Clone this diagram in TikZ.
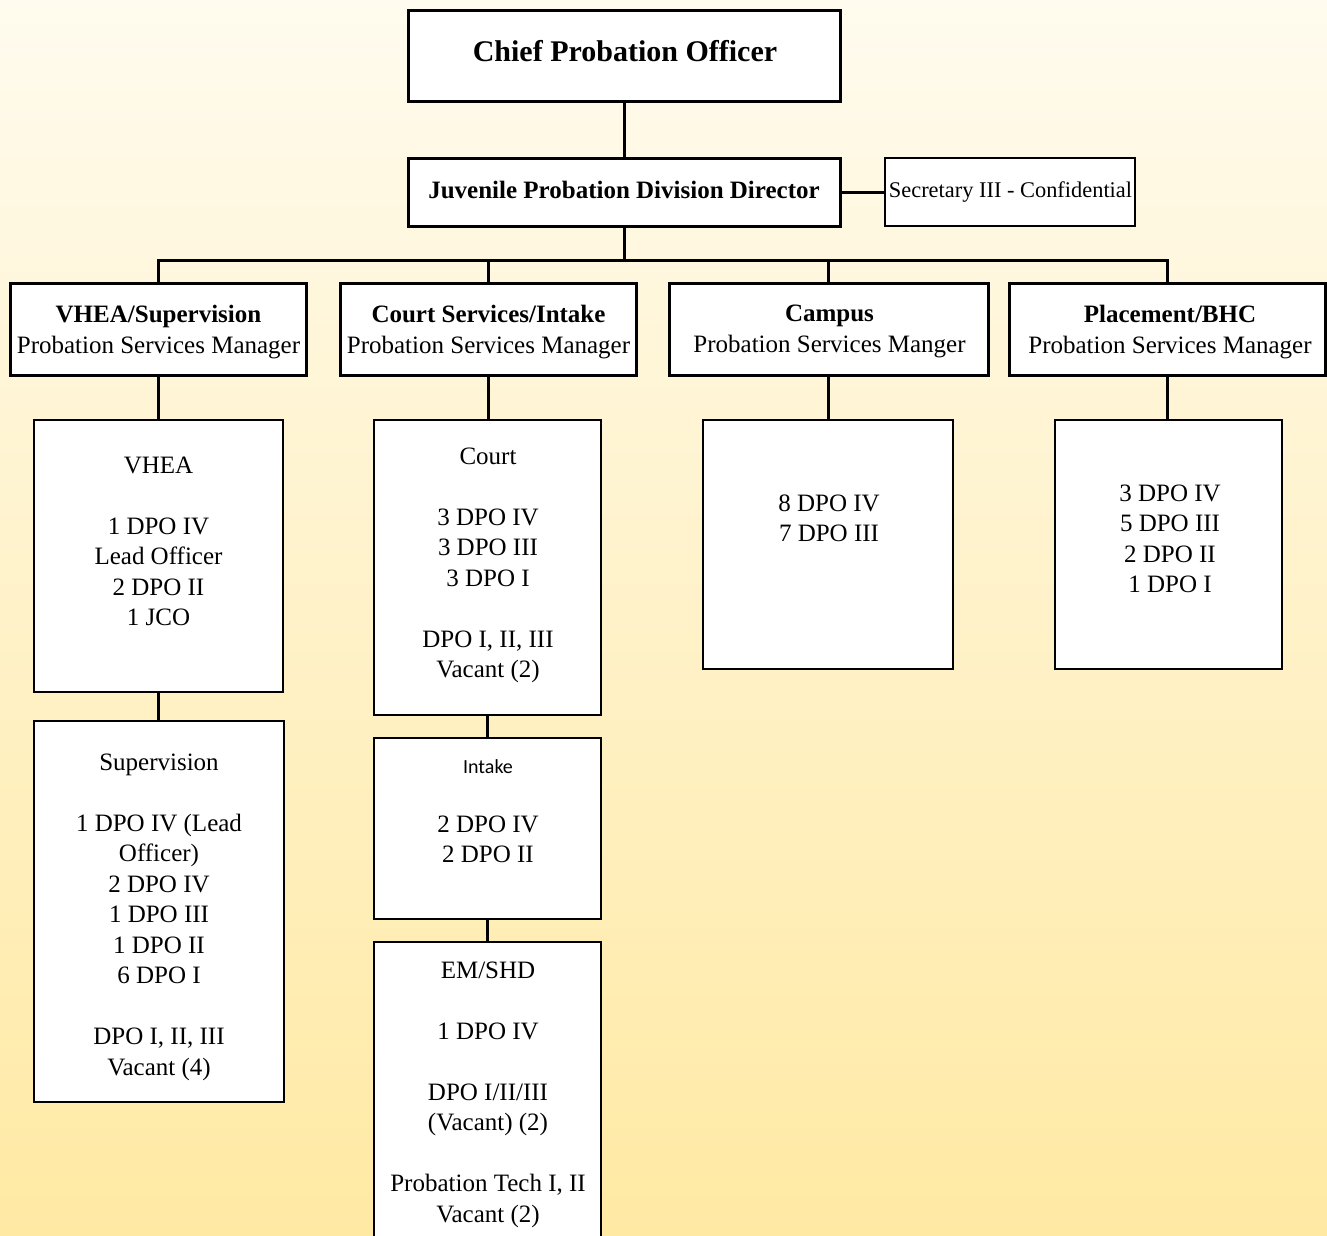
\documentclass[tikz,border=0pt]{standalone}
\usepackage{fontspec}
\setmainfont{Liberation Serif}
\newfontfamily\carlitofont{Carlito}
\usetikzlibrary{fit}
\definecolor{bgtop}{RGB}{255,251,238}
\definecolor{bgbot}{RGB}{255,233,163}
\newcommand\blankline{\\[22.875pt]}
\begin{document}
\begin{tikzpicture}[x=0.75pt,y=-0.75pt,
  thickbox/.style={draw, line width=2.25pt, fill=white, inner sep=0pt, outer sep=0pt},
  thinbox/.style={draw, line width=1.1pt, fill=white, inner sep=0pt, outer sep=0pt},
  conn/.style={line width=2.25pt},
  body/.style={anchor=north, align=center, inner sep=0pt, font=\fontsize{18.75}{22.875}\selectfont, execute at begin node=\strut},
]
\useasboundingbox (0,0) rectangle (1327,1235);
\clip (0,0) rectangle (1327,1235);
\shade[top color=bgtop, bottom color=bgbot] (0,0) rectangle (1327,1235);

% boxes
\node[thickbox, fit={(408,10)(840,101)}] (chief) {};
\node[thickbox, fit={(408,158)(840,226)}] (dir) {};
\node[thinbox, fit={(885,158)(1135,226)}] (sec) {};
\node[thickbox, fit={(10,283)(306,375)}] (m1) {};
\node[thickbox, fit={(340,283)(636,375)}] (m2) {};
\node[thickbox, fit={(669,283)(988,375)}] (m3) {};
\node[thickbox, fit={(1009,283)(1325,375)}] (m4) {};
\node[thinbox, fit={(34,420)(283,692)}] (vhea) {};
\node[thinbox, fit={(34,721)(284,1102)}] (sup) {};
\node[thinbox, fit={(374,420)(601,715)}] (court) {};
\node[thinbox, fit={(374,738)(601,919)}] (intake) {};
\node[thinbox, fit={(374,942)(601,1260)}] (em) {};
\node[thinbox, fit={(703,420)(953,669)}] (campus) {};
\node[thinbox, fit={(1055,420)(1282,669)}] (place) {};

% connectors
\draw[conn] (chief.south) -- (dir.north);
\draw[conn] (dir.east) -- (sec.west);
\draw[conn] (dir.south) -- ++(0,34);
\draw[conn] (m1.north) -- ++(0,-23) -| (m4.north);
\draw[conn] (m2.north) -- ++(0,-23);
\draw[conn] (m3.north) -- ++(0,-23);
\draw[conn] (m1.south) -- (m1.south |- vhea.north);
\draw[conn] (vhea.south) -- (vhea.south |- sup.north);
\draw[conn] (m2.south) -- (m2.south |- court.north);
\draw[conn] (court.south) -- (court.south |- intake.north);
\draw[conn] (intake.south) -- (intake.south |- em.north);
\draw[conn] (m3.south) -- (m3.south |- campus.north);
\draw[conn] (m4.south) -- (m4.south |- place.north);

% texts
\node[anchor=base, inner sep=0pt, font=\fontsize{22.5}{27}\selectfont\bfseries] (tchief) at (625,61) {Chief Probation Officer};
\node[anchor=base, inner sep=0pt, font=\fontsize{18.75}{22.875}\selectfont\bfseries] (tdir) at (624,198) {Juvenile Probation Division Director};
\node[anchor=base, inner sep=0pt, font=\fontsize{16.8}{20}\selectfont] (tsec) at (1010.5,197) {Secretary III - Confidential};

\node[body] (tm1) at (158.5,305) {\textbf{VHEA/Supervision}\\Probation Services Manager};
\node[body] (tm2) at (488.5,305) {\textbf{Court Services/Intake}\\Probation Services Manager};
\node[body] (tm3) at (829.5,305) {\textbf{Campus}\\Probation Services Manger};
\node[body] (tm4) at (1170,305) {\textbf{Placement/BHC}\\Probation Services Manager};

\node[body] (tvhea) at (158.5,456.5) {VHEA\blankline 1 DPO IV\\Lead Officer\\2 DPO II\\1 JCO};
\node[body] (tsup) at (159,753.5) {Supervision\blankline 1 DPO IV (Lead\\Officer)\\2 DPO IV\\1 DPO III\\1 DPO II\\6 DPO I\blankline DPO I, II, III\\Vacant (4)};
\node[body] (tcourt) at (488,447.5) {Court\blankline 3 DPO IV\\3 DPO III\\3 DPO I\blankline DPO I, II, III\\Vacant (2)};
\node[anchor=base, inner sep=0pt, font=\carlitofont\fontsize{15}{18}\selectfont] (tintakehead) at (488,773.5) {Intake};
\node[body] (tintake) at (488,815.5) {2 DPO IV\\2 DPO II};
\node[body] (tem) at (488,961.5) {EM/SHD\blankline 1 DPO IV\blankline DPO I/II/III\\(Vacant) (2)\blankline Probation Tech I, II\\Vacant (2)};
\node[body] (tcampus) at (829,494.5) {8 DPO IV\\7 DPO III};
\node[body] (tplace) at (1170,484.5) {3 DPO IV\\5 DPO III\\2 DPO II\\1 DPO I};
\end{tikzpicture}
\end{document}
